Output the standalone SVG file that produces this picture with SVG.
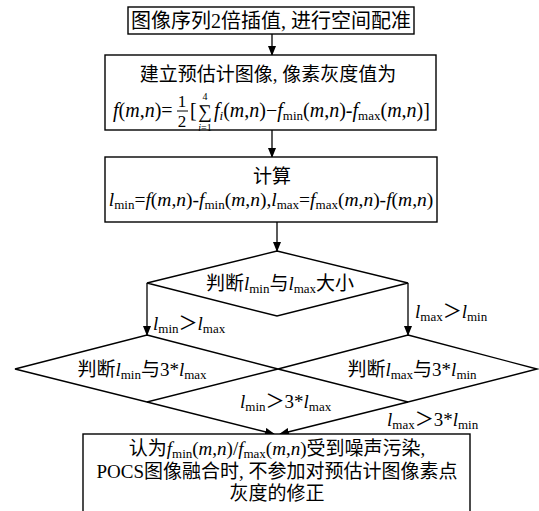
<svg xmlns="http://www.w3.org/2000/svg" width="539" height="511" viewBox="0 0 539 511">
<defs>
<marker id="arr" markerWidth="10" markerHeight="8" refX="9" refY="4" orient="auto" markerUnits="userSpaceOnUse">
<path d="M0,0 L10,4 L0,8 Z" fill="#000"/>
</marker>
<style>
.box{fill:#fff;stroke:#000;stroke-width:1.4}
.dia{fill:none;stroke:#000;stroke-width:1.4}
.con{fill:none;stroke:#000;stroke-width:1.3}
text{font-family:"Liberation Serif","Noto Sans CJK SC",serif;fill:#000}
.cn{font-family:"Noto Sans CJK SC","Liberation Serif",sans-serif}
.it{font-style:italic}
.sub{font-size:13px}
</style>
</defs>
<rect width="539" height="511" fill="#fff"/>

<g id="connectors">
<line class="con" x1="272" y1="34" x2="272" y2="55" marker-end="url(#arr)"/>
<line class="con" x1="272" y1="130" x2="272" y2="157" marker-end="url(#arr)"/>
<line class="con" x1="277" y1="222" x2="277" y2="251" marker-end="url(#arr)"/>
<line class="con" x1="147" y1="283" x2="147" y2="335" marker-end="url(#arr)"/>
<line class="con" x1="408" y1="283" x2="408" y2="335" marker-end="url(#arr)"/>
<line class="con" x1="147" y1="402" x2="274" y2="434" marker-end="url(#arr)"/>
<line class="con" x1="408" y1="402" x2="280" y2="434" marker-end="url(#arr)"/>
</g>

<g id="n1">
<rect class="box" x="128" y="7" width="286" height="27"/>
<text x="271" y="28" font-size="20" text-anchor="middle"><tspan class="cn">图像序列</tspan>2<tspan class="cn">倍插值</tspan>, <tspan class="cn">进行空间配准</tspan></text>
</g>

<g id="n2">
<rect class="box" x="105" y="55" width="331" height="75"/>
<text x="268" y="81" font-size="19" text-anchor="middle"><tspan class="cn">建立预估计图像</tspan>, <tspan class="cn">像素灰度值为</tspan></text>
<text x="113" y="117" font-size="20"><tspan class="it">f</tspan>(<tspan class="it">m</tspan>,<tspan class="it">n</tspan>)=</text>
<text x="182" y="107" font-size="17" text-anchor="middle">1</text>
<line x1="177" y1="111" x2="188" y2="111" stroke="#000" stroke-width="1"/>
<text x="182" y="127" font-size="17" text-anchor="middle">2</text>
<text x="190" y="117" font-size="20">[</text>
<text x="205" y="118" font-size="19" text-anchor="middle">∑</text>
<text x="205" y="100" font-size="10" text-anchor="middle">4</text>
<text x="205" y="131" font-size="10" text-anchor="middle"><tspan class="it">i</tspan>=1</text>
<text x="214" y="117" font-size="20"><tspan class="it">f</tspan><tspan class="it sub" dy="3">i</tspan><tspan dy="-3">(</tspan><tspan class="it">m</tspan>,<tspan class="it">n</tspan>)−<tspan class="it">f</tspan><tspan class="sub" dy="3">min</tspan><tspan dy="-3">(</tspan><tspan class="it">m</tspan>,<tspan class="it">n</tspan>)-<tspan class="it">f</tspan><tspan class="sub" dy="3">max</tspan><tspan dy="-3">(</tspan><tspan class="it">m</tspan>,<tspan class="it">n</tspan>)]</text>
</g>

<g id="n3">
<rect class="box" x="105" y="157" width="332" height="65"/>
<text x="272" y="183" font-size="19" text-anchor="middle" class="cn">计算</text>
<text x="271" y="206" font-size="19.5" text-anchor="middle"><tspan class="it">l</tspan><tspan class="sub" dy="3">min</tspan><tspan dy="-3">=</tspan><tspan class="it">f</tspan>(<tspan class="it">m</tspan>,<tspan class="it">n</tspan>)-<tspan class="it">f</tspan><tspan class="sub" dy="3">min</tspan><tspan dy="-3">(</tspan><tspan class="it">m</tspan>,<tspan class="it">n</tspan>),<tspan class="it">l</tspan><tspan class="sub" dy="3">max</tspan><tspan dy="-3">=</tspan><tspan class="it">f</tspan><tspan class="sub" dy="3">max</tspan><tspan dy="-3">(</tspan><tspan class="it">m</tspan>,<tspan class="it">n</tspan>)-<tspan class="it">f</tspan>(<tspan class="it">m</tspan>,<tspan class="it">n</tspan>)</text>
</g>

<g id="d1">
<polygon class="dia" points="277,251 408,283 277,316 147,283"/>
<text x="280" y="290" font-size="19" text-anchor="middle"><tspan class="cn">判断</tspan><tspan class="it">l</tspan><tspan class="sub" dy="3">min</tspan><tspan class="cn" dy="-3">与</tspan><tspan class="it">l</tspan><tspan class="sub" dy="3">max</tspan><tspan class="cn" dy="-3">大小</tspan></text>
</g>

<g id="d2">
<polygon class="dia" points="147,335 278,369 147,402 15,369"/>
<text x="142" y="376" font-size="19" text-anchor="middle"><tspan class="cn">判断</tspan><tspan class="it">l</tspan><tspan class="sub" dy="3">min</tspan><tspan class="cn" dy="-3">与</tspan>3*<tspan class="it">l</tspan><tspan class="sub" dy="3">max</tspan></text>
</g>

<g id="d3">
<polygon class="dia" points="408,335 537,369 408,402 278,369"/>
<text x="412" y="376" font-size="19" text-anchor="middle"><tspan class="cn">判断</tspan><tspan class="it">l</tspan><tspan class="sub" dy="3">max</tspan><tspan class="cn" dy="-3">与</tspan>3*<tspan class="it">l</tspan><tspan class="sub" dy="3">min</tspan></text>
</g>

<g id="labels">
<text x="153" y="330" font-size="19"><tspan class="it">l</tspan><tspan class="sub" dy="3">min</tspan><tspan class="cn" dy="-3">＞</tspan><tspan class="it">l</tspan><tspan class="sub" dy="3">max</tspan></text>
<text x="415" y="318" font-size="19"><tspan class="it">l</tspan><tspan class="sub" dy="3">max</tspan><tspan class="cn" dy="-3">＞</tspan><tspan class="it">l</tspan><tspan class="sub" dy="3">min</tspan></text>
<text x="240" y="408" font-size="19"><tspan class="it">l</tspan><tspan class="sub" dy="3">min</tspan><tspan class="cn" dy="-3">＞</tspan>3*<tspan class="it">l</tspan><tspan class="sub" dy="3">max</tspan></text>
<text x="387" y="426" font-size="19"><tspan class="it">l</tspan><tspan class="sub" dy="3">max</tspan><tspan class="cn" dy="-3">＞</tspan>3*<tspan class="it">l</tspan><tspan class="sub" dy="3">min</tspan></text>
</g>

<g id="n4">
<rect class="box" x="83" y="434" width="387" height="90"/>
<text x="277" y="455" font-size="19" text-anchor="middle"><tspan class="cn">认为</tspan><tspan class="it">f</tspan><tspan class="sub" dy="3">min</tspan><tspan dy="-3">(</tspan><tspan class="it">m</tspan>,<tspan class="it">n</tspan>)/<tspan class="it">f</tspan><tspan class="sub" dy="3">max</tspan><tspan dy="-3">(</tspan><tspan class="it">m</tspan>,<tspan class="it">n</tspan>)<tspan class="cn">受到噪声污染</tspan>,</text>
<text x="277" y="478" font-size="19" text-anchor="middle">POCS<tspan class="cn">图像融合时</tspan>, <tspan class="cn">不参加对预估计图像素点</tspan></text>
<text x="277" y="500" font-size="19" text-anchor="middle" class="cn">灰度的修正</text>
</g>
</svg>
